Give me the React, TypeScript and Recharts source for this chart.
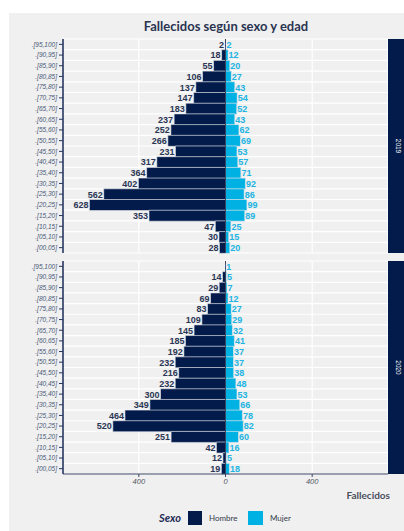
import React from 'react';
import { BarChart, Bar, XAxis, YAxis, CartesianGrid, ReferenceLine, LabelList } from 'recharts';

const ageGroups = [
  '.[95,100]', '.[90,95]', '.[85,90]', '.[80,85]', '.[75,80]', '.[70,75]', '.[65,70]',
  '.[60,65]', '.[55,60]', '.[50,55]', '.[45,50]', '.[40,45]', '.[35,40]', '.[30,35]',
  '.[25,30]', '.[20,25]', '.[15,20]', '.[10,15]', '.[05,10]', '.[00,05]',
];
const hombre2019 = [2, 18, 55, 106, 137, 147, 183, 237, 252, 266, 231, 317, 364, 402, 562, 628, 353, 47, 30, 28];
const mujer2019 = [2, 12, 20, 27, 43, 54, 52, 43, 62, 69, 53, 57, 71, 92, 86, 99, 89, 25, 15, 20];
const hombre2020: (number | null)[] = [null, 14, 29, 69, 83, 109, 145, 185, 192, 232, 216, 232, 300, 349, 464, 520, 251, 42, 12, 19];
const mujer2020 = [1, 5, 7, 12, 27, 29, 32, 41, 37, 37, 38, 48, 53, 66, 78, 82, 60, 16, 5, 18];
const xTicks = [-400, 0, 400];
const xDomain = [-750, 750];
const years = ['2019', '2020'];

const NAVY = '#021b4b';
const CYAN = '#00b2e3';
const BG = '#f0f0f0';

const build = (h: (number | null)[], m: number[]) =>
  ageGroups.map((g, i) => ({ grupo: g, hombre: h[i] == null ? null : -(h[i] as number), mujer: m[i] }));

const data2019 = build(hombre2019, mujer2019);
const data2020 = build(hombre2020, mujer2020);

const HLabel = (props: any) => {
  const { x, y, width, height, value } = props;
  if (value == null) return null;
  const left = Math.min(Number(x), Number(x) + Number(width));
  return (
    <text x={left - 1} y={Number(y) + Number(height) / 2} dy="0.36em" textAnchor="end"
      fontFamily="Liberation Sans, Arial, sans-serif" fontWeight="bold" fontSize={9}
      fill="#2b3655" stroke={BG} strokeWidth={1.6} paintOrder="stroke">
      {Math.abs(value)}
    </text>
  );
};

const MLabel = (props: any) => {
  const { x, y, width, height, value } = props;
  if (value == null) return null;
  const right = Math.max(Number(x), Number(x) + Number(width));
  return (
    <text x={right + 0.5} y={Number(y) + Number(height) / 2} dy="0.36em" textAnchor="start"
      fontFamily="Liberation Sans, Arial, sans-serif" fontWeight="bold" fontSize={9}
      fill="#22b4e2" stroke={BG} strokeWidth={1.6} paintOrder="stroke">
      {value}
    </text>
  );
};

const rowLines = (props: any) => {
  const off = props.offset || {};
  const top = off.top ?? 0;
  const h = off.height ?? props.height ?? 0;
  const n = ageGroups.length;
  return Array.from({ length: n + 1 }, (_, i) => top + (i * h) / n);
};

const YTick = (props: any) => {
  const { x, y, payload } = props;
  return (
    <text x={x} y={y} dy="0.35em" textAnchor="end" fontFamily="Liberation Sans, Arial, sans-serif"
      fontStyle="italic" fontSize={6.5} fill="#4a5878">
      {payload.value}
    </text>
  );
};

const Panel = ({ data, showX, height, margin }: any) => (
  <BarChart width={404} height={height} data={data} layout="vertical" stackOffset="sign"
    barCategoryGap={0} margin={margin}>
    <CartesianGrid fill={BG} stroke="#ffffff" strokeWidth={1.2}
      horizontalCoordinatesGenerator={rowLines} />
    <XAxis type="number" domain={xDomain} ticks={xTicks} hide={!showX} allowDataOverflow
      tickFormatter={(v: number) => String(Math.abs(v))}
      axisLine={{ stroke: '#3a4666', strokeWidth: 1 }} tickLine={{ stroke: '#3a4666' }}
      tickSize={3} tickMargin={2} height={16}
      tick={{ fontFamily: 'Liberation Sans, Arial, sans-serif', fontStyle: 'italic', fontSize: 7.5, fill: '#505660' }} />
    <YAxis type="category" dataKey="grupo" width={55} interval={0}
      axisLine={{ stroke: '#26355f', strokeWidth: 1.6 }} tickLine={{ stroke: '#26355f' }}
      tickSize={4} tickMargin={2} tick={<YTick />} />
    <Bar dataKey="hombre" stackId="a" fill={NAVY} stroke="#e4e6ea" strokeWidth={0.6} isAnimationActive={false}>
      <LabelList dataKey="hombre" content={<HLabel />} />
    </Bar>
    <Bar dataKey="mujer" stackId="a" fill={CYAN} stroke="#e4e6ea" strokeWidth={0.6} isAnimationActive={false}>
      <LabelList dataKey="mujer" content={<MLabel />} />
    </Bar>
    <ReferenceLine x={0} stroke="#1a2240" strokeWidth={0.8} />
  </BarChart>
);

const Strip = ({ label, top, height }: any) => (
  <svg style={{ position: 'absolute', left: 388, top }} width={16} height={height}>
    <rect x={0} y={0} width={16} height={height} fill={NAVY} />
    <text x={10} y={height / 2} transform={`rotate(90 10 ${height / 2})`} textAnchor="middle" dy="0.35em"
      fontFamily="Liberation Sans, Arial, sans-serif" fontSize={6.5} fill="#ffffff">{label}</text>
  </svg>
);

export default function App() {
  return (
    <div style={{ position: 'absolute', left: 0, top: 0, width: 404, height: 531, background: '#ffffff', overflow: 'hidden' }}>
      <div style={{ position: 'absolute', left: 9, top: 13, width: 395, height: 518, background: BG }} />
      <div style={{ position: 'absolute', left: 0, top: 18, width: 452, textAlign: 'center',
        fontFamily: 'Lato, sans-serif', fontWeight: 700, fontSize: 13, color: '#2a3450', lineHeight: '16px' }}>
        Fallecidos según sexo y edad
      </div>
      <div style={{ position: 'absolute', left: 0, top: 0 }}>
        <Panel data={data2019} showX={false} height={262} margin={{ top: 39, right: 16, bottom: 9, left: 8 }} />
      </div>
      <div style={{ position: 'absolute', left: 0, top: 253 }}>
        <Panel data={data2020} showX={true} height={278} margin={{ top: 8, right: 16, bottom: 41, left: 8 }} />
      </div>
      <Strip label={years[0]} top={39} height={214} />
      <Strip label={years[1]} top={261} height={213} />
      <div style={{ position: 'absolute', right: 14, top: 489, fontFamily: 'Lato, sans-serif', fontWeight: 700,
        fontSize: 10, color: '#4a4f5e', lineHeight: '12px' }}>
        Fallecidos
      </div>
      <svg style={{ position: 'absolute', left: 0, top: 505 }} width={404} height={26}>
        <text x={181} y={13} dy="0.35em" textAnchor="end" fontFamily="Lato, sans-serif" fontWeight={700}
          fontStyle="italic" fontSize={11} fill="#1e2a55">Sexo</text>
        <rect x={188} y={6} width={14} height={14} fill={NAVY} />
        <text x={209} y={13} dy="0.35em" fontFamily="Lato, sans-serif" fontSize={8} fill="#333a4a">Hombre</text>
        <rect x={248} y={6} width={15} height={14} fill={CYAN} />
        <text x={270} y={13} dy="0.35em" fontFamily="Lato, sans-serif" fontSize={8} fill="#333a4a">Mujer</text>
      </svg>
    </div>
  );
}
